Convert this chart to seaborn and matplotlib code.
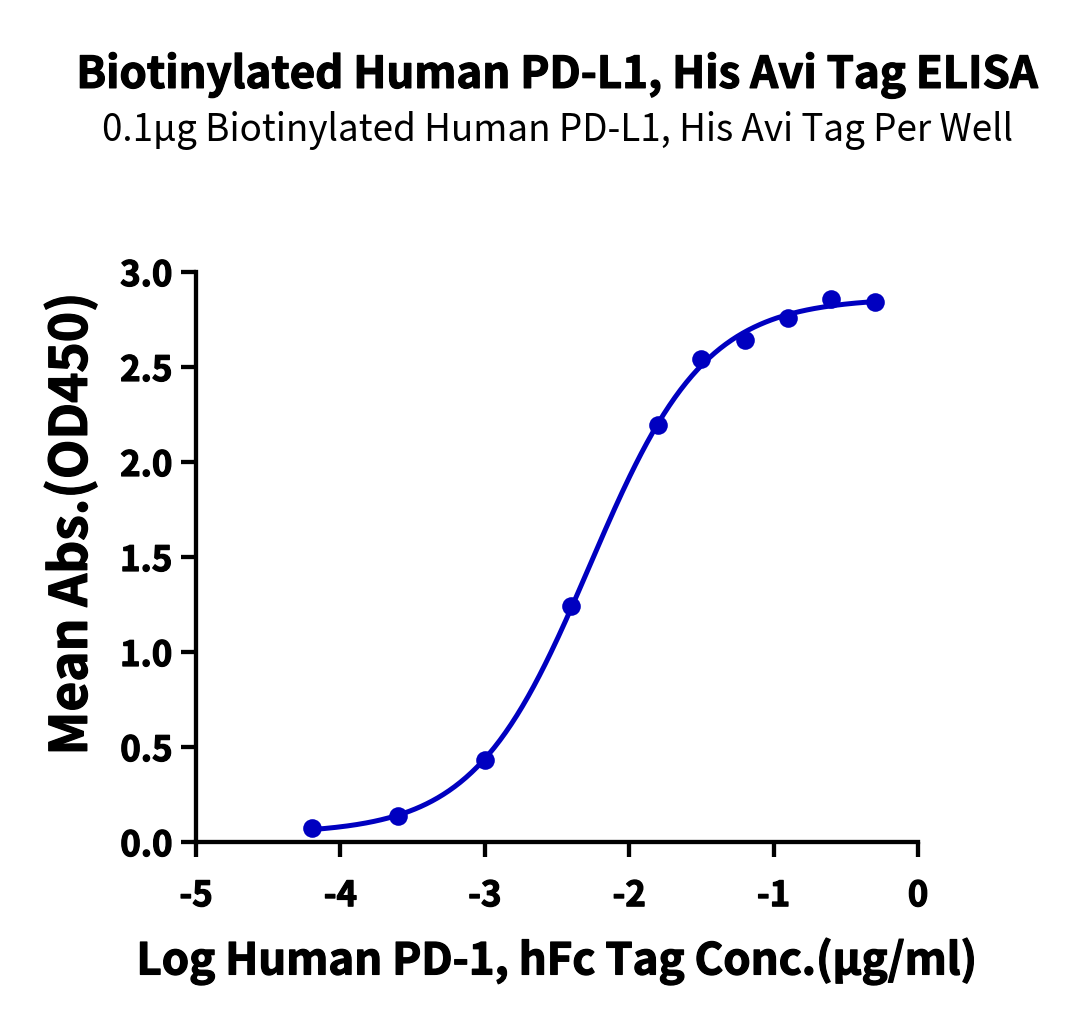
import numpy as np
import pandas as pd
import matplotlib
matplotlib.use("Agg")
import matplotlib.pyplot as plt
import matplotlib.patheffects as pe
import seaborn as sns

# data
log_conc = [-4.2, -3.6, -3.0, -2.4, -1.8, -1.5, -1.2, -0.9, -0.6, -0.3]
mean_abs = [0.074, 0.137, 0.43, 1.24, 2.195, 2.54, 2.64, 2.76, 2.86, 2.84]

TITLE = "Biotinylated Human PD-L1, His Avi Tag ELISA"
SUBTITLE = "0.1\u00b5g Biotinylated Human PD-L1, His Avi Tag Per Well"
XLABEL = "Log Human PD-1, hFc Tag Conc.(\u00b5g/ml)"
YLABEL = "Mean Abs.(OD450)"
BLUE = "#0000C0"

df = pd.DataFrame({"x": log_conc, "y": mean_abs})


# 4PL fit of the points (like the original Prism curve)
def four_pl(p, x):
    bottom, top, logec50, hill = p
    return bottom + (top - bottom) / (1 + 10 ** ((logec50 - x) * hill))


def fit_4pl(x, y, p0):
    p = np.array(p0, dtype=float)
    lam = 1e-3
    for _ in range(200):
        r = y - four_pl(p, x)
        J = np.empty((len(x), len(p)))
        for k in range(len(p)):
            dp = np.zeros_like(p)
            dp[k] = 1e-6
            J[:, k] = (four_pl(p + dp, x) - four_pl(p - dp, x)) / 2e-6
        A = J.T @ J
        step = np.linalg.solve(A + lam * np.diag(np.diag(A)), J.T @ r)
        p_new = p + step
        if np.sum((y - four_pl(p_new, x)) ** 2) < np.sum(r ** 2):
            p = p_new
            lam *= 0.3
        else:
            lam *= 10
    return p


xs = np.array(log_conc)
params = fit_4pl(xs, np.array(mean_abs), [0.05, 2.9, -2.3, 1.0])
grid = np.linspace(xs.min(), xs.max(), 300)
curve = pd.DataFrame({"x": grid, "y": four_pl(params, grid)})

sns.set_style("ticks")
plt.rcParams["font.family"] = ["Noto Sans CJK SC", "DejaVu Sans"]
plt.rcParams["text.color"] = "black"
plt.rcParams["axes.labelcolor"] = "black"
plt.rcParams["xtick.color"] = "black"
plt.rcParams["ytick.color"] = "black"

heavy = [pe.withStroke(linewidth=0.9, foreground="black")]

fig = plt.figure(figsize=(10.8, 10.29), dpi=100)
ax = fig.add_axes([0.1815, 0.1817, 0.6685, 0.554])

sns.lineplot(data=curve, x="x", y="y", ax=ax, color=BLUE, linewidth=3.6, clip_on=False)
sns.scatterplot(data=df, x="x", y="y", ax=ax, color=BLUE, s=180, edgecolor=BLUE,
                linewidth=0, clip_on=False, zorder=5)

ax.set_xlim(-5, 0)
ax.set_ylim(0, 3)
ax.set_xticks([-5, -4, -3, -2, -1, 0])
ax.set_xticklabels(["-5", "-4", "-3", "-2", "-1", "0"])
ax.set_yticks([0, 0.5, 1.0, 1.5, 2.0, 2.5, 3.0])
ax.set_yticklabels(["0.0", "0.5", "1.0", "1.5", "2.0", "2.5", "3.0"])
for s in ["top", "right"]:
    ax.spines[s].set_visible(False)
for s in ["left", "bottom"]:
    ax.spines[s].set_linewidth(3.1)
    ax.spines[s].set_color("black")
ax.tick_params(axis="both", length=11, width=3.1, color="black", labelsize=25)
ax.tick_params(axis="x", pad=15)
ax.tick_params(axis="y", pad=6)
for lab in ax.get_xticklabels() + ax.get_yticklabels():
    lab.set_fontweight("bold")
    lab.set_path_effects(heavy)
ax.set_xlabel(XLABEL, fontsize=31.5, fontweight="bold", labelpad=18, path_effects=heavy)
ax.set_ylabel(YLABEL, fontsize=37, fontweight="bold", path_effects=heavy)
ax.yaxis.set_label_coords(-0.136, 0.558)

fig.text(0.516, 0.927, TITLE, ha="center", va="center", fontsize=31.5, fontweight="bold",
         path_effects=heavy)
fig.text(0.516, 0.873, SUBTITLE, ha="center", va="center", fontsize=26.5)

fig.savefig("out.png", dpi=100)
